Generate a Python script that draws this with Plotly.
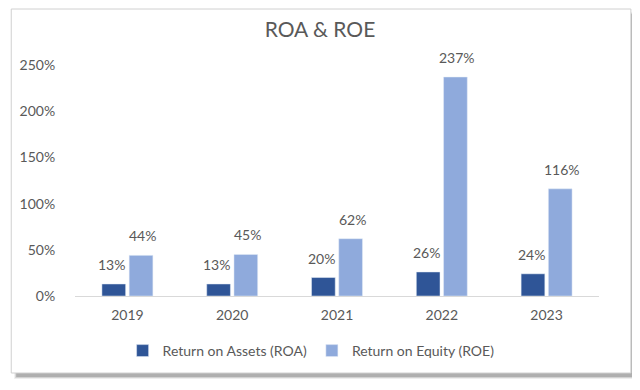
import plotly.graph_objects as go

years = ["2019", "2020", "2021", "2022", "2023"]
roa = [13, 13, 20, 26, 24]
roe = [44, 45, 62, 237, 116]
y_ticks = [0, 50, 100, 150, 200, 250]
y_tick_labels = ["0%", "50%", "100%", "150%", "200%", "250%"]

# page is shown with an 8px body margin, so the figure is laid out in page coordinates
OFF = 8
W, H = 640 - OFF, 390 - OFF
PL, PR, PT, PB = 73, 599, 65, 296          # plot area in page pixels
L, R, T, B = PL - OFF, 640 - PR, PT - OFF, 390 - PB
PW, PH = PR - PL, PB - PT

def px(x):
    return (x - PL) / PW

def py(y):
    return (PB - y) / PH

DARK = "#2F5597"
LIGHT = "#8FAADC"
TXT = "#595959"
FONT = "Lato, Open Sans, sans-serif"

fig = go.Figure()
fig.add_trace(go.Bar(name="Return on Assets (ROA)", x=years, y=roa, marker=dict(color=DARK)))
fig.add_trace(go.Bar(name="Return on Equity (ROE)", x=years, y=roe, marker=dict(color=LIGHT)))

annotations = []
for series, shift in ((roa, -15.5), (roe, 15.5)):
    for i, v in enumerate(series):
        annotations.append(dict(x=i, y=v, xref="x", yref="y", text=f"{v}%",
                                showarrow=False, yanchor="bottom", yshift=9, xshift=shift,
                                font=dict(size=14, color=TXT, family=FONT)))

shapes = []
# shadow
for i, op in enumerate([0.10, 0.18, 0.28]):
    shapes.append(dict(type="rect", xref="paper", yref="paper", layer="below",
                       x0=px(12 + i), x1=px(636 - i), y0=py(379 - i), y1=py(12 + i),
                       fillcolor="#555555", opacity=op, line=dict(width=0)))
shapes.append(dict(type="rect", xref="paper", yref="paper", layer="below",
                   x0=px(9), x1=px(631), y0=py(373), y1=py(9),
                   fillcolor="white", line=dict(color="#D0D0D0", width=1)))

fig.update_layout(
    width=W, height=H,
    margin=dict(l=L, r=R, t=T, b=B),
    paper_bgcolor="white", plot_bgcolor="rgba(0,0,0,0)",
    barmode="group", bargap=0.48, bargroupgap=0.13,
    title=dict(text="ROA & ROE", x=(320 - OFF) / W, xanchor="center",
               y=1 - (30 - OFF) / H, yanchor="middle",
               font=dict(size=21, color=TXT, family=FONT)),
    font=dict(family=FONT, color=TXT, size=14),
    xaxis=dict(type="category", range=[-0.5, len(years) - 0.5], showline=True,
               linecolor="#D9D9D9", linewidth=1, showgrid=False,
               tickfont=dict(size=14, color=TXT),
               ticks="outside", ticklen=6, tickcolor="rgba(0,0,0,0)"),
    yaxis=dict(range=[0, 250], tickvals=y_ticks, ticktext=y_tick_labels, showgrid=False,
               zeroline=False, showline=False, tickfont=dict(size=14, color=TXT),
               ticks="outside", ticklen=16, tickcolor="rgba(0,0,0,0)"),
    legend=dict(orientation="h", x=px(310), xanchor="center", y=py(351), yanchor="middle",
                font=dict(size=14, color=TXT), bgcolor="rgba(0,0,0,0)"),
    annotations=annotations,
    shapes=shapes,
)

fig.write_html("out.html")
